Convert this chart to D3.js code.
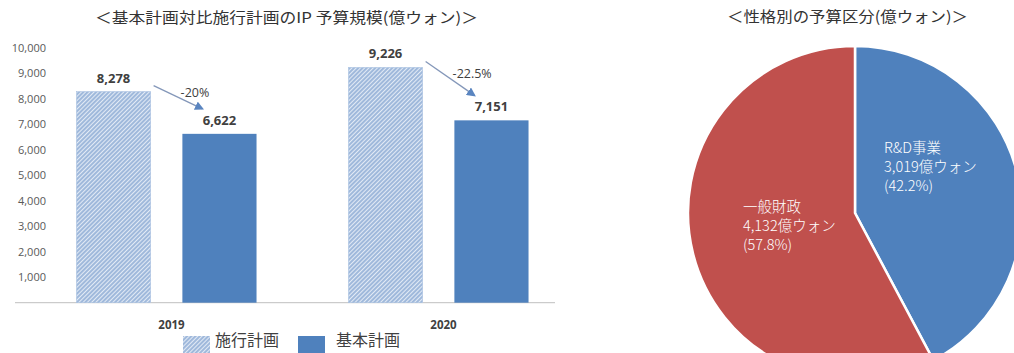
<!DOCTYPE html>
<html>
<head>
<meta charset="utf-8">
<script src="https://cdn.jsdelivr.net/npm/d3@7"></script>
<style>
  body { margin: 0; background: #fff; overflow: hidden; }
  svg { display: block; }
</style>
</head>
<body>
<svg id="chart" width="1014" height="353"></svg>
<script>
// bar chart data
const years = ["2019", "2020"];
const series = ["施行計画", "基本計画"];
const execValues = [8278, 9226];   // 施行計画
const baseValues = [6622, 7151];   // 基本計画
const changeLabels = ["-20%", "-22.5%"];
const yTicks = [1000, 2000, 3000, 4000, 5000, 6000, 7000, 8000, 9000, 10000];

// pie chart data
const pieNames = ["R&D事業", "一般財政"];
const pieValues = [3019, 4132];
const pieAmounts = ["3,019億ウォン", "4,132億ウォン"];
const piePercents = ["(42.2%)", "(57.8%)"];

const barTitle = "＜基本計画対比施行計画のIP 予算規模(億ウォン)＞";
const pieTitle = "＜性格別の予算区分(億ウォン)＞";

const blue = "#4f81bd", red = "#c0504d";
const cjk = "'Noto Sans CJK JP', sans-serif";
const num = "'Open Sans', sans-serif";

const svg = d3.select("#chart");

// hatch pattern for 施行計画
const defs = svg.append("defs");
const pat = defs.append("pattern")
    .attr("id", "hatch")
    .attr("patternUnits", "userSpaceOnUse")
    .attr("width", 3).attr("height", 3)
    .attr("patternTransform", "rotate(45)");
pat.append("rect").attr("width", 3).attr("height", 3).attr("fill", "#e2eaf5");
pat.append("line").attr("x1", 1).attr("y1", 0).attr("x2", 1).attr("y2", 3)
    .attr("stroke", "#7398cb").attr("stroke-width", 1.2);

defs.append("marker")
    .attr("id", "arrowHead")
    .attr("viewBox", "0 0 10 10")
    .attr("refX", 8).attr("refY", 5)
    .attr("markerWidth", 7).attr("markerHeight", 7)
    .attr("orient", "auto")
    .append("path").attr("d", "M0,0 L10,5 L0,10 Z").attr("fill", "#5a85c0");

/* ---------- bar chart ---------- */
const y = d3.scaleLinear().domain([0, 10000]).range([302.7, 47.7]);

const x0 = d3.scaleBand().domain(years).range([30.5, 574.5])
    .paddingInner(0.338).paddingOuter(0.169);
const x1 = d3.scaleBand().domain(series).range([0, x0.bandwidth()]).paddingInner(0.3);

// y axis labels
const yAxis = svg.append("g")
    .attr("transform", "translate(46,0)")
    .call(d3.axisLeft(y).tickValues(yTicks).tickSize(0).tickPadding(0).tickFormat(d3.format(",")));
yAxis.select(".domain").remove();
yAxis.selectAll("text")
    .style("font-family", num).style("font-size", "11px").attr("fill", "#595959");

// baseline
svg.append("line")
    .attr("x1", 15).attr("x2", 555)
    .attr("y1", y(0)).attr("y2", y(0))
    .attr("stroke", "#bfbfbf").attr("stroke-width", 1);

const rows = years.map((yr, i) => ({ year: yr, exec: execValues[i], base: baseValues[i], change: changeLabels[i] }));

const groups = svg.selectAll("g.grp")
    .data(rows).enter().append("g")
    .attr("class", "grp")
    .attr("transform", d => "translate(" + x0(d.year) + ",0)");

groups.append("rect")
    .attr("x", x1(series[0]))
    .attr("y", d => y(d.exec))
    .attr("width", x1.bandwidth())
    .attr("height", d => y(0) - y(d.exec))
    .attr("fill", "url(#hatch)")
    .attr("stroke", "#a9c1e2").attr("stroke-width", 0.6);

groups.append("rect")
    .attr("x", x1(series[1]))
    .attr("y", d => y(d.base))
    .attr("width", x1.bandwidth())
    .attr("height", d => y(0) - y(d.base))
    .attr("fill", blue);

// value labels
groups.append("text")
    .attr("x", x1(series[0]) + x1.bandwidth() / 2)
    .attr("y", d => y(d.exec) - 9)
    .attr("text-anchor", "middle")
    .style("font-family", num).style("font-size", "13px").style("font-weight", "bold")
    .attr("fill", "#404040")
    .text(d => d3.format(",")(d.exec));

groups.append("text")
    .attr("x", x1(series[1]) + x1.bandwidth() / 2)
    .attr("y", d => y(d.base) - 9)
    .attr("text-anchor", "middle")
    .style("font-family", num).style("font-size", "13px").style("font-weight", "bold")
    .attr("fill", "#404040")
    .text(d => d3.format(",")(d.base));

// arrows with change rate
groups.append("line")
    .attr("x1", x1(series[0]) + x1.bandwidth() + 3)
    .attr("y1", d => y(d.exec) - 6)
    .attr("x2", x1(series[1]) + 20)
    .attr("y2", d => y(d.base) - 25)
    .attr("stroke", "#8497b9").attr("stroke-width", 1.3)
    .attr("marker-end", "url(#arrowHead)");

groups.append("text")
    .attr("x", x1(series[0]) + x1.bandwidth() + 30)
    .attr("y", d => (y(d.exec) - 6 + y(d.base) - 25) / 2)
    .style("font-family", num).style("font-size", "12.5px")
    .attr("fill", "#404040")
    .text(d => d.change);

// year labels
groups.append("text")
    .attr("x", x0.bandwidth() / 2 + 5)
    .attr("y", 329)
    .attr("text-anchor", "middle")
    .style("font-family", num).style("font-size", "11.5px").style("font-weight", "bold")
    .attr("fill", "#404040")
    .text(d => d.year);

// title
svg.append("text")
    .attr("x", 95).attr("y", 23)
    .attr("textLength", 383).attr("lengthAdjust", "spacingAndGlyphs")
    .style("font-family", cjk).style("font-size", "15px")
    .attr("fill", "#333")
    .text(barTitle);

// legend
const legendItems = [
  { name: series[0], fill: "url(#hatch)", bx: 183, tx: 215 },
  { name: series[1], fill: blue, bx: 298, tx: 336 }
];
const leg = svg.selectAll("g.leg").data(legendItems).enter().append("g").attr("class", "leg");
leg.append("rect")
    .attr("x", d => d.bx).attr("y", 336)
    .attr("width", 27).attr("height", 18)
    .attr("fill", d => d.fill);
leg.append("text")
    .attr("x", d => d.tx).attr("y", 346)
    .style("font-family", cjk).style("font-size", "16px")
    .attr("fill", "#404040")
    .text(d => d.name);

/* ---------- pie chart ---------- */
const cx = 855, cy = 213, radius = 167;
const pie = d3.pie().sort(null).value(d => d.value);
const arc = d3.arc().innerRadius(0).outerRadius(radius);
const colors = [blue, red];
const pieData = pieNames.map((n, i) => ({ name: n, value: pieValues[i], amount: pieAmounts[i], pct: piePercents[i], color: colors[i] }));

const pg = svg.append("g").attr("transform", "translate(" + cx + "," + cy + ")");
const arcs = pie(pieData);

pg.selectAll("path")
    .data(arcs).enter().append("path")
    .attr("d", arc)
    .attr("fill", d => d.data.color)
    .attr("stroke", "#fff").attr("stroke-width", 2.5);

// label nudges relative to slice centroids
const labelNudge = [[-52, -40], [-31, -21]];
const lab = pg.selectAll("text.pl")
    .data(arcs).enter().append("text")
    .attr("class", "pl")
    .attr("transform", (d, i) => {
      const c = arc.centroid(d);
      return "translate(" + (c[0] + labelNudge[i][0]) + "," + (c[1] + labelNudge[i][1]) + ")";
    })
    .style("font-family", cjk).style("font-size", "14.5px").style("font-weight", 300)
    .attr("fill", "#fff");
lab.append("tspan").attr("x", 0).attr("dy", 0).text(d => d.data.name);
lab.append("tspan").attr("x", 0).attr("dy", 19).text(d => d.data.amount);
lab.append("tspan").attr("x", 0).attr("dy", 19).text(d => d.data.pct);

svg.append("text")
    .attr("x", 727).attr("y", 22)
    .attr("textLength", 241).attr("lengthAdjust", "spacingAndGlyphs")
    .style("font-family", cjk).style("font-size", "15px")
    .attr("fill", "#333")
    .text(pieTitle);
</script>
</body>
</html>
